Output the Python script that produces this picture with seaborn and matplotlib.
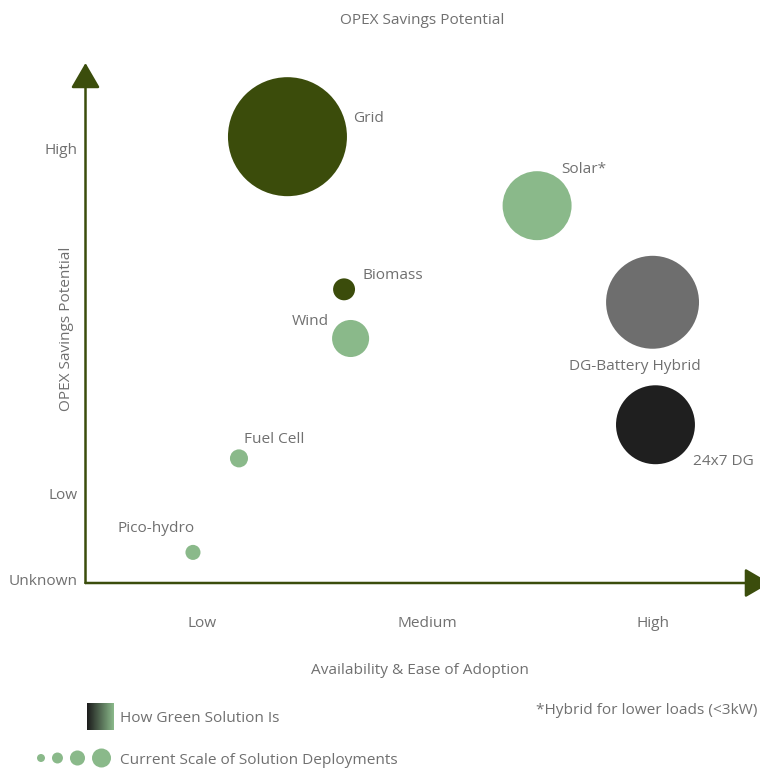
import matplotlib
matplotlib.use("Agg")
import numpy as np
import pandas as pd
import matplotlib.pyplot as plt
from matplotlib import font_manager
from matplotlib.colors import LinearSegmentedColormap
import seaborn as sns

# ---- data -------------------------------------------------------------
solutions = ["Grid", "Solar*", "Biomass", "Wind", "DG-Battery Hybrid",
             "24x7 DG", "Fuel Cell", "Pico-hydro"]
# availability & ease of adoption (Low=1, Medium=2, High=3)
adoption = [1.379, 2.486, 1.630, 1.659, 2.998, 3.011, 1.164, 0.960]
# OPEX savings potential (Unknown=0, Low=1, High=5)
opex_savings = [5.14, 4.34, 3.37, 2.80, 3.22, 1.80, 1.41, 0.32]
# current scale of deployments (relative, largest = 100)
deployment_scale = [100, 33.6, 3.4, 9.7, 61, 44, 2.3, 1.6]
greenness = ["Partly green", "Green", "Partly green", "Green",
             "Hybrid", "Not green", "Green", "Green"]

x_ticks = [1, 2, 3]
x_tick_labels = ["Low", "Medium", "High"]
y_ticks = [0, 1, 5]
y_tick_labels = ["Unknown", "Low", "High"]

legend_scale_levels = [0.45, 0.85, 1.6, 2.55]

df = pd.DataFrame({"solution": solutions, "adoption": adoption,
                   "opex": opex_savings, "scale": deployment_scale,
                   "green": greenness})

# ---- style ------------------------------------------------------------
sns.set_theme(style="white")
available = {f.name for f in font_manager.fontManager.ttflist}
family = [f for f in ["Liberation Sans Narrow", "Open Sans", "DejaVu Sans"] if f in available]
plt.rcParams["font.family"] = family

TEXT = "#707070"
AXIS = "#3b4d0c"
palette = {"Partly green": "#3b4c0b", "Green": "#8ab98a",
           "Hybrid": "#6e6e6e", "Not green": "#1f1f1f"}
FS = 11.1

W, H = 760, 768
fig = plt.figure(figsize=(W / 100, H / 100), dpi=100)
ox, oy = 85.5, 583          # axis origin in pixels (from top-left)
ax = fig.add_axes([ox / W, (H - oy) / H, 1 - ox / W, oy / H])

S_MAX = (2 * 59.5 * 0.72) ** 2   # marker area (pt^2) for scale 100
sns.scatterplot(data=df, x="adoption", y="opex", hue="green", palette=palette,
                size="scale", sizes=(0, S_MAX), size_norm=(0, 100),
                linewidth=0, alpha=1, legend=False, ax=ax, zorder=3)

ax.set_xlim(0.4834, 3.4745)
ax.set_ylim(-0.0348, 6.7246)
for s in ax.spines.values():
    s.set_visible(False)
ax.grid(False)

ax.set_xticks(x_ticks, x_tick_labels)
ax.set_yticks(y_ticks, y_tick_labels)
ax.tick_params(axis="x", length=0, pad=23.5, labelsize=FS, labelcolor=TEXT)
ax.tick_params(axis="y", length=0, pad=6, labelsize=FS, labelcolor=TEXT)

ax.set_ylabel("OPEX Savings Potential", fontsize=FS, color=TEXT, va="center")
ax.yaxis.set_label_coords(-0.028, 0.436)
ax.set_xlabel("Availability & Ease of Adoption", fontsize=FS, color=TEXT, va="center")
ax.xaxis.set_label_coords((420 - ox) / (W - ox), -(671 - oy) / oy)

# arrowed axes
arrow_kw = dict(arrowstyle="-|>,head_length=15.5,head_width=9", mutation_scale=1,
                color=AXIS, lw=1.8, shrinkA=0, shrinkB=0)
ax.annotate("", xy=(1.0148, 0), xytext=(0, 0), xycoords="axes fraction",
            arrowprops=arrow_kw, annotation_clip=False)
ax.annotate("", xy=(0, 0.892), xytext=(0, 0), xycoords="axes fraction",
            arrowprops=arrow_kw, annotation_clip=False)

# bubble labels: (dx, dy) in pixels from the bubble centre, text alignment
label_offsets = {
    "Grid": (65.5, 15, "left"),
    "Solar*": (24, 33, "left"),
    "Biomass": (18, 10.5, "left"),
    "Wind": (-21.5, 13.5, "right"),
    "DG-Battery Hybrid": (-18, -68, "center"),
    "24x7 DG": (37.5, -40, "left"),
    "Fuel Cell": (5, 15, "left"),
    "Pico-hydro": (-36.5, 20.5, "center"),
}
for name, xv, yv in zip(solutions, adoption, opex_savings):
    dx, dy, ha = label_offsets[name]
    ax.annotate(name, (xv, yv), xytext=(dx * 0.72, dy * 0.72),
                textcoords="offset points", ha=ha, va="baseline",
                fontsize=FS, color=TEXT, zorder=4)

fig.text(422 / W, 1 - 21 / H, "OPEX Savings Potential", ha="center", va="center",
         fontsize=FS, color=TEXT)

# legend: greenness gradient swatch
gax = fig.add_axes([87 / W, (H - 730) / H, 27 / W, 27 / H])
cmap = LinearSegmentedColormap.from_list("green_scale", ["#1c1c1c", "#8ab98a"])
gax.imshow(np.linspace(0, 1, 64)[None, :], aspect="auto", cmap=cmap)
gax.axis("off")
fig.text(120 / W, 1 - 719 / H, "How Green Solution Is", ha="left", va="center",
         fontsize=FS, color=TEXT)

# legend: deployment scale dots, spaced by their radii
lax = fig.add_axes([0, 0, 1, 1], zorder=-1)
lax.set_xlim(0, W)
lax.set_ylim(H, 0)
lax.axis("off")
radii = [np.sqrt(v / 100) * 59.5 for v in legend_scale_levels]
xs, cur = [], 37
for r in radii:
    xs.append(cur + r)
    cur += 2 * r + 7
leg_df = pd.DataFrame({"x": xs, "y": [758] * len(xs), "scale": legend_scale_levels})
sns.scatterplot(data=leg_df, x="x", y="y", size="scale", sizes=(0, S_MAX),
                size_norm=(0, 100), color="#8ab98a", linewidth=0, legend=False, ax=lax)
lax.set_xlabel("")
lax.set_ylabel("")
fig.text(120 / W, 1 - 760 / H, "Current Scale of Solution Deployments", ha="left",
         va="center", fontsize=FS, color=TEXT)

fig.text(757 / W, 1 - 710 / H, "*Hybrid for lower loads (<3kW)", ha="right", va="center",
         fontsize=FS, color=TEXT)

fig.savefig("out.png", dpi=100)
